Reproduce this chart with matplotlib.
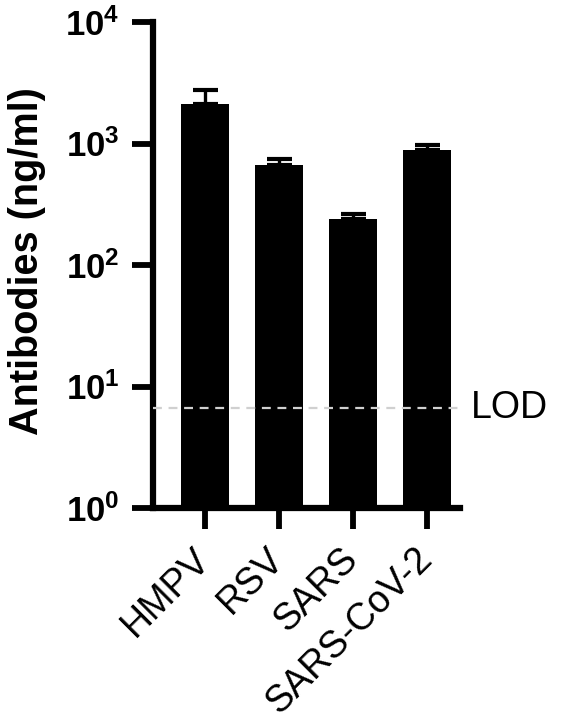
import numpy as np
import matplotlib
matplotlib.use("Agg")
import matplotlib.pyplot as plt

plt.rcParams['font.family'] = ['Liberation Sans', 'DejaVu Sans']
plt.rcParams['mathtext.fontset'] = 'custom'
plt.rcParams['mathtext.rm'] = 'Liberation Sans:bold'
plt.rcParams['mathtext.it'] = 'Liberation Sans:bold'
plt.rcParams['mathtext.bf'] = 'Liberation Sans:bold'

# data
viruses = ['HMPV', 'RSV', 'SARS', 'SARS-CoV-2']
antibody_mean = [2100, 665, 240, 885]
antibody_err = [650, 80, 23, 90]
lod_value = 6.6
ytick_vals = [1, 10, 100, 1000, 10000]
ytick_labels = [r'$10^{0}$', r'$10^{1}$', r'$10^{2}$', r'$10^{3}$', r'$10^{4}$']

fig = plt.figure(figsize=(5.62, 7.21), dpi=100)
ax = fig.add_axes([153/562, 1 - 508/721, 307/562, (508 - 22)/721])

x = np.arange(len(viruses))
ax.bar(x, antibody_mean, width=0.65, color='black', zorder=2)
ax.errorbar(x, antibody_mean, yerr=[np.zeros(len(x)), antibody_err],
            fmt='none', ecolor='black', elinewidth=2.4, capsize=9, capthick=3, zorder=3)

# limit of detection
ax.axhline(lod_value, color='#d0d0d0', linestyle=(0, (4, 3)), linewidth=1.6, zorder=4)
ax.text(3.6, lod_value, 'LOD', fontsize=27, va='center', ha='left', color='black')

ax.set_yscale('log')
ax.set_ylim(1, 10000)
ax.set_xlim(-0.70, 3.45)
ax.set_yticks(ytick_vals)
ax.set_yticklabels(ytick_labels, fontsize=25)
ax.yaxis.set_minor_locator(matplotlib.ticker.NullLocator())
ax.set_xticks(x)
ax.set_xticklabels(viruses, fontsize=27, rotation=45, ha='right', va='center',
                   rotation_mode='anchor')

for side in ['top', 'right']:
    ax.spines[side].set_visible(False)
for side in ['left', 'bottom']:
    ax.spines[side].set_linewidth(4.5)
ax.tick_params(axis='both', which='major', length=15, width=4.2, direction='out')
ax.tick_params(axis='y', pad=9)
ax.tick_params(axis='x', pad=18)

fig.text(27/562, 1 - 261/721, 'Antibodies (ng/ml)', rotation=90, fontsize=28.5,
         fontweight='bold', ha='center', va='center')

fig.savefig('out.png', dpi=100)
